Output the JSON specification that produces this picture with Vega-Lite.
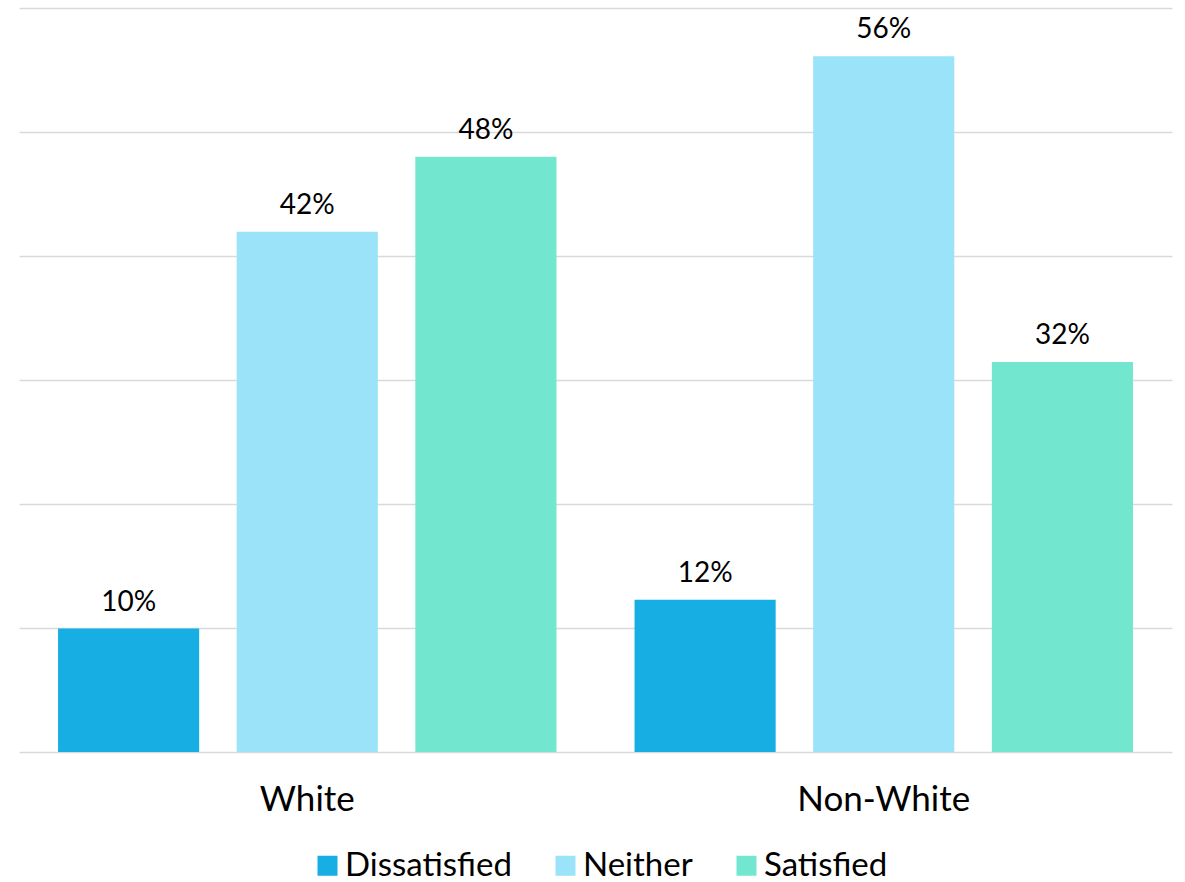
{
  "$schema": "https://vega.github.io/schema/vega-lite/v6.json",
  "autosize": {"type": "none"},
  "width": 1153,
  "height": 744,
  "padding": {"left": 19, "top": 8, "right": 13, "bottom": 130},
  "background": "#ffffff",
  "config": {
    "view": {"stroke": null},
    "font": "Lato",
    "text": {"font": "Lato"}
  },
  "data": {
    "values": [
      {"group": "White", "response": "Dissatisfied", "share": 0.0995, "label": "10%"},
      {"group": "White", "response": "Neither", "share": 0.4196, "label": "42%"},
      {"group": "White", "response": "Satisfied", "share": 0.480, "label": "48%"},
      {"group": "Non-White", "response": "Dissatisfied", "share": 0.1228, "label": "12%"},
      {"group": "Non-White", "response": "Neither", "share": 0.561, "label": "56%"},
      {"group": "Non-White", "response": "Satisfied", "share": 0.3145, "label": "32%"}
    ]
  },
  "encoding": {
    "x": {
      "field": "group",
      "type": "nominal",
      "sort": ["White", "Non-White"],
      "scale": {"paddingInner": 0, "paddingOuter": 0},
      "axis": {
        "title": null,
        "labelAngle": 0,
        "ticks": false,
        "tickSize": 0,
        "domain": false,
        "labelFont": "Lato",
        "labelFontSize": 35,
        "labelColor": "#000000",
        "labelBaseline": "alphabetic",
        "labelPadding": 58
      }
    },
    "xOffset": {
      "field": "response",
      "type": "nominal",
      "sort": ["Dissatisfied", "Neither", "Satisfied"],
      "scale": {"paddingInner": 0.21, "paddingOuter": 0.2185}
    },
    "y": {
      "field": "share",
      "type": "quantitative",
      "scale": {"domain": [0, 0.6], "nice": false},
      "axis": {
        "title": null,
        "labels": false,
        "ticks": false,
        "domain": false,
        "values": [0, 0.1, 0.2, 0.3, 0.4, 0.5, 0.6],
        "grid": true,
        "gridColor": "#d9d9d9",
        "gridWidth": 1.5
      }
    }
  },
  "layer": [
    {
      "mark": {"type": "bar"},
      "encoding": {
        "color": {
          "field": "response",
          "type": "nominal",
          "sort": ["Dissatisfied", "Neither", "Satisfied"],
          "scale": {
            "domain": ["Dissatisfied", "Neither", "Satisfied"],
            "range": ["#17afe3", "#9ae3f8", "#73e6cf"]
          },
          "legend": {
            "title": null,
            "orient": "none",
            "direction": "horizontal",
            "legendX": 292,
            "legendY": 841,
            "symbolType": "square",
            "symbolSize": 400,
            "symbolStrokeWidth": 0,
            "symbolOpacity": 1,
            "labelFont": "Lato",
            "labelFontSize": 33,
            "labelColor": "#000000",
            "labelOffset": 1,
            "columnPadding": 37,
            "padding": 0,
            "labelLimit": 400
          }
        }
      }
    },
    {
      "mark": {
        "type": "text",
        "baseline": "alphabetic",
        "dy": -18,
        "font": "Lato",
        "fontSize": 28,
        "color": "#000000"
      },
      "encoding": {
        "text": {"field": "label", "type": "nominal"}
      }
    }
  ]
}
